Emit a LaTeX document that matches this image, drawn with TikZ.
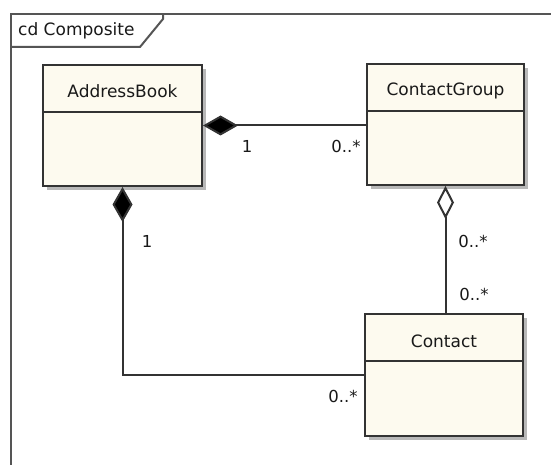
\documentclass[tikz,border=0pt]{standalone}
\usepackage{fontspec}
\setmainfont{DejaVu Sans}
\usetikzlibrary{arrows.meta,shadows,calc}
\definecolor{cream}{HTML}{FDFAEF}
\definecolor{edge}{HTML}{333333}
\definecolor{framec}{HTML}{555555}
\begin{document}
\begin{tikzpicture}[x=1pt,y=-1pt,
  cls/.style={draw=edge,line width=2pt,fill=cream,rectangle,inner sep=0pt,
    drop shadow={shadow xshift=4pt,shadow yshift=-4pt,fill=black!28,opacity=1}},
  ctitle/.style={font=\fontsize{17}{19}\selectfont,text=black!90,anchor=base,inner sep=0pt},
  mult/.style={font=\fontsize{16.5}{18}\selectfont,text=black!90,inner sep=0pt},
  conn/.style={draw=edge,line width=2pt},
  comp/.style={{Diamond[length=35pt,width=20pt,fill=black]}-},
  aggr/.style={{Diamond[length=33pt,width=17pt,fill=white]}-}
]
\useasboundingbox (0,0) rectangle (551,465);
\fill[white] (0,0) rectangle (551,465);
% frame
\draw[framec,line width=2pt] (551,14) -- (11,14) -- (11,466);
\draw[framec,line width=2pt] (163,14) -- (163,19) -- (140,47) -- (11,47);
\node[anchor=base west,inner sep=0pt,font=\fontsize{17}{19}\selectfont,text=black!90] (tab) at (18,36) {cd Composite};
% classes
\node[cls,minimum width=159pt,minimum height=121pt] (ab) at (122.5,125.5) {};
\node[cls,minimum width=157pt,minimum height=121pt] (cg) at (445.5,124.5) {};
\node[cls,minimum width=158pt,minimum height=122pt] (ct) at (444,375) {};
\draw[edge,line width=2pt] ($(ab.north west)+(0,48)$) -- ($(ab.north east)+(0,48)$);
\draw[edge,line width=2pt] ($(cg.north west)+(0,48)$) -- ($(cg.north east)+(0,48)$);
\draw[edge,line width=2pt] ($(ct.north west)+(0,48)$) -- ($(ct.north east)+(0,48)$);
\node[ctitle] (abt) at ($(ab.north)+(0,34)$) {AddressBook};
\node[ctitle] (cgt) at ($(cg.north)+(0,33)$) {ContactGroup};
\node[ctitle] (ctt) at ($(ct.north)+(0,34)$) {Contact};
% connectors
\draw[conn,comp] (ab.east) -- (ab.east -| cg.west);
\draw[conn,comp] (ab.south) |- (ct.west);
\draw[conn,aggr] (cg.south) -- (cg.south |- ct.north);
% multiplicities
\node[mult] (m1) at (247,146) {1};
\node[mult] (m2) at (346,146) {0..*};
\node[mult] (m3) at (147,241) {1};
\node[mult] (m4) at (343,396) {0..*};
\node[mult] (m5) at (473,241) {0..*};
\node[mult] (m6) at (474,294) {0..*};
\end{tikzpicture}
\end{document}
